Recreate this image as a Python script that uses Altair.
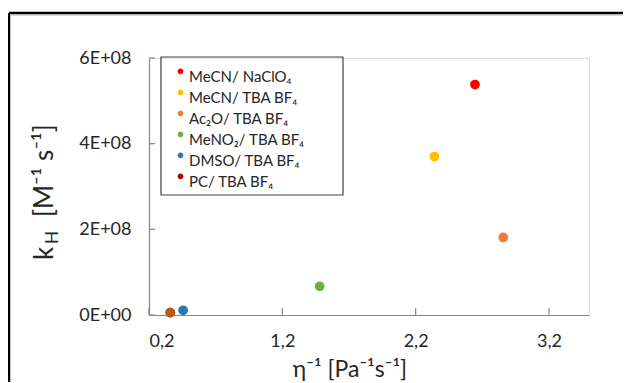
import altair as alt
import pandas as pd

# ---- data ----
series = ["MeCN/ NaClO₄", "MeCN/ TBA BF₄", "Ac₂O/ TBA BF₄",
          "MeNO₂/ TBA BF₄", "DMSO/ TBA BF₄", "PC/ TBA BF₄"]
eta_inv = [2.645, 2.34, 2.857, 1.48, 0.456, 0.36]
k_h = [5.38e8, 3.70e8, 1.81e8, 6.7e7, 1.1e7, 5.6e6]
legend_colors = ["#ff0000", "#ffc000", "#ed7d31", "#70ad47", "#2e75b6", "#c00000"]
pc_point_color = "#b85a1c"
x_ticks = [0.2, 1.2, 2.2, 3.2]
y_ticks = [0, 2e8, 4e8, 6e8]
x_domain = [0.2, 3.5]
y_domain = [0, 6e8]

y_title_main = "k"
y_title_sub = "H"
y_title_rest = "[M⁻¹ s⁻¹]"
x_title = "η⁻¹ [Pa⁻¹s⁻¹]"

FONT = "Lato"
AXIS_GREY = "#868686"
TEXT = "#262626"
W, H = 440, 257

# legend dot sits a little above the label's middle, as in the reference
RAISED_DOT = "M -1,-1.8 A 1,1 0 1,1 1,-1.8 A 1,1 0 1,1 -1,-1.8 Z"

df = pd.DataFrame({"series": series, "x": eta_inv, "y": k_h})
df_pc = df[df["series"] == series[-1]]
xt = pd.DataFrame({"t": x_ticks})
yt = pd.DataFrame({"t": y_ticks})

xscale = alt.Scale(domain=x_domain, nice=False, zero=False)
yscale = alt.Scale(domain=y_domain, nice=False)

x_axis = alt.Axis(values=x_ticks, labelExpr="replace(format(datum.value, '.1f'), '.', ',')",
                  ticks=False, grid=False, domainColor=AXIS_GREY, domainWidth=1.2,
                  labelFont=FONT, labelFontSize=18, labelColor=TEXT, labelPadding=17,
                  title="")
y_axis = alt.Axis(values=y_ticks, labelExpr="replace(upper(format(datum.value, '.0e')), 'E+', 'E+0')",
                  ticks=False, grid=False, domainColor=AXIS_GREY, domainWidth=1.2,
                  labelFont=FONT, labelFontSize=18, labelColor=TEXT, labelPadding=18,
                  title="")

points = alt.Chart(df).mark_circle(size=95, opacity=1).encode(
    x=alt.X("x:Q", scale=xscale, axis=x_axis),
    y=alt.Y("y:Q", scale=yscale, axis=y_axis),
    color=alt.Color("series:N", sort=series,
                    scale=alt.Scale(domain=series, range=legend_colors),
                    legend=alt.Legend(title=None, orient="none", legendX=24, legendY=11,
                                      labelFont=FONT, labelFontSize=15, labelColor=TEXT,
                                      symbolType=RAISED_DOT, symbolSize=32, symbolStrokeWidth=0,
                                      symbolOpacity=1, labelOffset=1, rowPadding=4,
                                      labelBaseline="middle", padding=0)),
)

pc_overlay = alt.Chart(df_pc).mark_circle(size=95, opacity=1, color=pc_point_color).encode(
    x=alt.X("x:Q", scale=xscale),
    y=alt.Y("y:Q", scale=yscale),
)

x_tick_marks = alt.Chart(xt).mark_rule(color=AXIS_GREY, strokeWidth=1.2).encode(
    x=alt.X("t:Q", scale=xscale), y=alt.value(H), y2=alt.value(H - 7))
y_tick_marks = alt.Chart(yt).mark_rule(color=AXIS_GREY, strokeWidth=1.2).encode(
    y=alt.Y("t:Q", scale=yscale), x=alt.value(0), x2=alt.value(6))

legend_box = alt.Chart(pd.DataFrame({"a": [0]})).mark_rect(
    fill="white", fillOpacity=0, stroke="#404040", strokeWidth=1.2).encode(
    x=alt.value(12), x2=alt.value(194), y=alt.value(-1), y2=alt.value(137))

frame_top = alt.Chart(pd.DataFrame({"a": [0]})).mark_rule(color="black", strokeWidth=2.5).encode(
    x=alt.value(-140), x2=alt.value(480), y=alt.value(-45))
frame_shadow = alt.Chart(pd.DataFrame({"a": [0]})).mark_rule(color="#b0b0b0", strokeWidth=1).encode(
    x=alt.value(-138), x2=alt.value(480), y=alt.value(-43))
frame_left = alt.Chart(pd.DataFrame({"a": [0]})).mark_rule(color="black", strokeWidth=2.5).encode(
    x=alt.value(-140), y=alt.value(-45), y2=alt.value(330))

yt1 = alt.Chart(pd.DataFrame({"t": [y_title_main]})).mark_text(
    angle=270, align="left", baseline="alphabetic", font=FONT, fontSize=26, color=TEXT).encode(
    text="t:N", x=alt.value(-96), y=alt.value(202))
yt2 = alt.Chart(pd.DataFrame({"t": [y_title_sub]})).mark_text(
    angle=270, align="left", baseline="alphabetic", font=FONT, fontSize=17, color=TEXT).encode(
    text="t:N", x=alt.value(-91), y=alt.value(186))
yt3 = alt.Chart(pd.DataFrame({"t": [y_title_rest]})).mark_text(
    angle=270, align="left", baseline="alphabetic", font=FONT, fontSize=26, color=TEXT).encode(
    text="t:N", x=alt.value(-96), y=alt.value(159))
xtitle = alt.Chart(pd.DataFrame({"t": [x_title]})).mark_text(
    align="center", baseline="alphabetic", font=FONT, fontSize=23, color=TEXT).encode(
    text="t:N", x=alt.value(201), y=alt.value(319))

chart = alt.layer(
    frame_top, frame_shadow, frame_left, legend_box, x_tick_marks, y_tick_marks,
    points, pc_overlay, yt1, yt2, yt3, xtitle
).properties(
    width=W, height=H,
    autosize=alt.AutoSizeParams(type="none"),
    padding={"left": 141, "top": 50, "right": 34, "bottom": 67},
).configure_view(stroke=None).configure(background="white")

chart.save("out.html", embed_options={"renderer": "svg", "actions": False})
